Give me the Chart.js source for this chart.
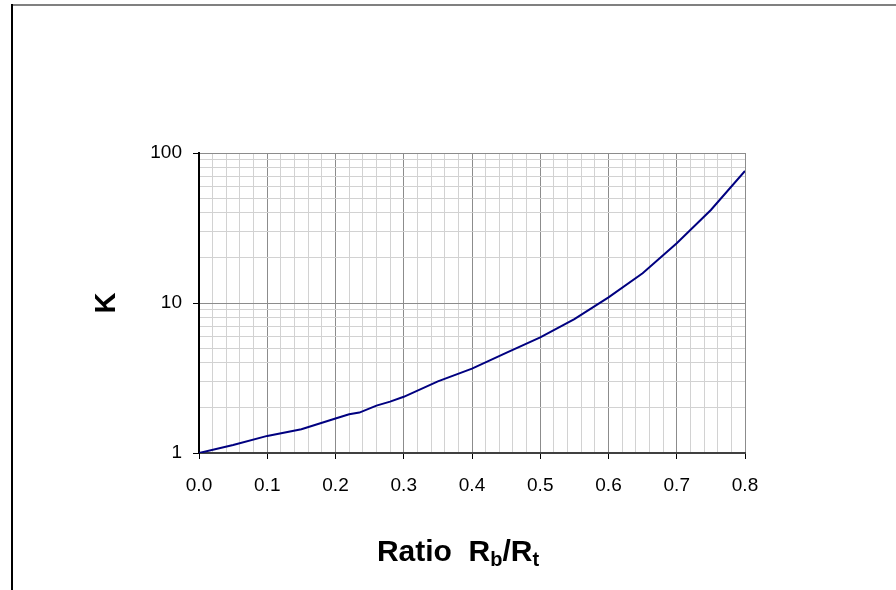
<!DOCTYPE html>
<html>
<head>
<meta charset="utf-8">
<title>K vs Ratio Rb/Rt</title>
<script src="https://cdn.jsdelivr.net/npm/chart.js@4/dist/chart.umd.min.js"></script>
<style>
  html, body { margin: 0; padding: 0; background: #ffffff; }
  canvas { display: block; }
</style>
</head>
<body>
<canvas id="chart" width="896" height="590"></canvas>
<script>
// Ratio Rb/Rt and the corresponding factor K
const ratio = [0, 0.05, 0.1, 0.15, 0.2, 0.22, 0.235, 0.26, 0.28, 0.3, 0.35, 0.4, 0.45, 0.5, 0.55, 0.6, 0.65, 0.7, 0.75, 0.8];
const kValues = [1, 1.13, 1.3, 1.44, 1.7, 1.81, 1.86, 2.07, 2.2, 2.37, 3.0, 3.65, 4.65, 5.9, 7.8, 10.9, 15.8, 25.0, 41.7, 76];

// Gridline positions: every 0.02 on x, labelled every 0.1; log decades on y
const xGridValues = Array.from({ length: 41 }, (_, i) => Math.round(i * 2) / 100);
const xLabelValues = [0, 0.1, 0.2, 0.3, 0.4, 0.5, 0.6, 0.7, 0.8];
const yGridValues = [1, 2, 3, 4, 5, 6, 7, 8, 9, 10, 20, 30, 40, 50, 60, 70, 80, 90, 100];
const yLabelValues = [1, 10, 100];

const isXMajor = v => xLabelValues.some(m => Math.abs(m - v) < 1e-9);
const isYMajor = v => yLabelValues.some(m => Math.abs(m - v) < 1e-9);

const MAJOR_GRID = '#8c8c8c';
const MINOR_GRID = '#d2d2d2';

const points = ratio.map((r, i) => ({ x: r, y: kValues[i] }));

// Figure frame and axis titles (the x title carries subscripts)
const decorations = {
  id: 'decorations',
  beforeDraw(chart) {
    const c = chart.ctx;
    c.save();
    c.fillStyle = '#ffffff';
    c.fillRect(0, 0, chart.width, chart.height);
    c.restore();
  },
  afterDraw(chart) {
    const c = chart.ctx;
    c.save();
    // frame lines
    c.fillStyle = '#808080';
    c.fillRect(11, 4, chart.width - 11, 2);
    c.fillStyle = '#000000';
    c.fillRect(11, 4, 2, chart.height - 4);

    // y title
    c.font = 'bold 29px "Liberation Sans", Arial, sans-serif';
    c.fillStyle = '#000000';
    c.textAlign = 'center';
    c.textBaseline = 'middle';
    c.translate(107, 303);
    c.rotate(-Math.PI / 2);
    c.fillText('K', 0, 0);
    c.restore();

    // x title: "Ratio  R_b/R_t"
    c.save();
    const big = 'bold 30px "Liberation Sans", Arial, sans-serif';
    const small = 'bold 20px "Liberation Sans", Arial, sans-serif';
    const parts = [
      { t: 'Ratio  R', f: big, dy: 0 },
      { t: 'b', f: small, dy: 5 },
      { t: '/R', f: big, dy: 0 },
      { t: 't', f: small, dy: 5 }
    ];
    let total = 0;
    parts.forEach(p => { c.font = p.f; p.w = c.measureText(p.t).width; total += p.w; });
    let x = 458 - total / 2;
    const baseline = 561;
    c.fillStyle = '#000000';
    c.textAlign = 'left';
    c.textBaseline = 'alphabetic';
    parts.forEach(p => { c.font = p.f; c.fillText(p.t, x, baseline + p.dy); x += p.w; });
    c.restore();
  }
};

new Chart(document.getElementById('chart'), {
  type: 'line',
  data: {
    datasets: [{
      data: points,
      borderColor: '#000080',
      borderWidth: 2,
      pointRadius: 0,
      tension: 0,
      fill: false
    }]
  },
  options: {
    responsive: false,
    animation: false,
    layout: { padding: { left: 0, top: 153, right: 151, bottom: 0 } },
    plugins: { legend: { display: false }, tooltip: { enabled: false } },
    scales: {
      x: {
        type: 'linear',
        min: 0,
        max: 0.8,
        afterFit(scale) { scale.height = 137; },
        afterBuildTicks(scale) { scale.ticks = xGridValues.map(v => ({ value: v })); },
        ticks: {
          autoSkip: false,
          maxRotation: 0,
          padding: 15,
          color: '#000000',
          font: { family: '"Liberation Sans", Arial, sans-serif', size: 19 },
          callback: v => isXMajor(v) ? v.toFixed(1) : ''
        },
        grid: {
          color: ctx => isXMajor(ctx.tick.value) ? MAJOR_GRID : MINOR_GRID,
          tickColor: ctx => isXMajor(ctx.tick.value) ? '#000000' : 'rgba(0,0,0,0)',
          tickLength: 6,
          lineWidth: 1
        },
        border: { color: '#404040', width: 2 }
      },
      y: {
        type: 'logarithmic',
        min: 1,
        max: 100,
        afterFit(scale) { scale.width = 199; },
        afterBuildTicks(scale) { scale.ticks = yGridValues.map(v => ({ value: v })); },
        ticks: {
          autoSkip: false,
          padding: 11,
          color: '#000000',
          font: { family: '"Liberation Sans", Arial, sans-serif', size: 19 },
          callback: v => isYMajor(v) ? String(v) : ''
        },
        grid: {
          color: ctx => isYMajor(ctx.tick.value) ? MAJOR_GRID : MINOR_GRID,
          tickColor: ctx => isYMajor(ctx.tick.value) ? '#000000' : 'rgba(0,0,0,0)',
          tickLength: 6,
          lineWidth: 1
        },
        border: { color: '#000000', width: 2 }
      }
    }
  },
  plugins: [decorations]
});
</script>
</body>
</html>
